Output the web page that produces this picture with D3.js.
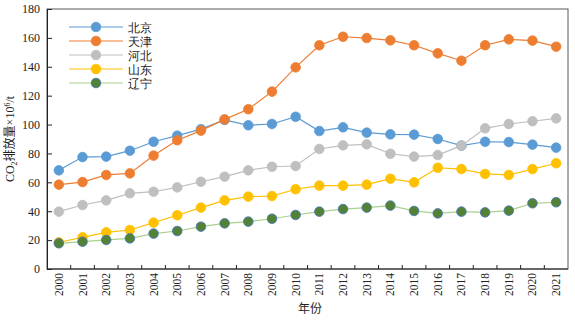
<!DOCTYPE html>
<html>
<head>
<meta charset="utf-8">
<script src="https://cdn.jsdelivr.net/npm/d3@7"></script>
<style>
  body { margin: 0; background: #fff; }
  text { font-family: "Liberation Serif", "Times New Roman", serif; }
  .cjk { font-family: "Noto Sans CJK SC", sans-serif; }
</style>
</head>
<body>
<svg id="chart"></svg>
<script>
const width = 575;
const height = 321;
const margin = {top: 9, right: 7, bottom: 52, left: 47};

const years = [2000,2001,2002,2003,2004,2005,2006,2007,2008,2009,2010,
               2011,2012,2013,2014,2015,2016,2017,2018,2019,2020,2021];
const yTicks = [0,20,40,60,80,100,120,140,160,180];
const regions = ['北京','天津','河北','山东','辽宁'];

const beijing  = [68.3,77.5,77.8,81.9,88.1,92.3,96.8,103.2,99.5,100.4,105.4,95.5,98.1,94.4,93.2,93.0,90.0,85.4,88.1,87.9,86.1,84.0];
const tianjin  = [58.4,60.2,65.1,66.2,78.5,89.1,95.8,103.6,110.6,122.8,139.6,154.9,160.8,159.9,158.3,154.9,149.3,144.2,154.9,159.0,158.1,153.9];
const hebei    = [39.7,44.3,47.5,52.4,53.5,56.5,60.4,63.9,68.3,70.8,71.3,83.1,85.6,86.3,79.8,77.8,78.9,85.4,97.4,100.4,102.3,104.3];
const shandong = [18.5,21.9,25.4,27.0,32.1,37.2,42.5,47.5,50.1,50.5,55.2,57.7,57.7,58.4,62.5,60.0,70.1,69.2,65.8,65.1,69.2,73.2];
const liaoning = [17.8,18.9,20.1,21.2,24.5,26.3,29.3,31.6,32.8,34.8,37.4,39.7,41.5,42.5,43.9,40.2,38.5,39.7,39.2,40.4,45.5,46.2];

const styles = [
  {line: '#5B9BD5', fill: '#5B9BD5', stroke: '#5B9BD5'},
  {line: '#ED7D31', fill: '#ED7D31', stroke: '#ED7D31'},
  {line: '#BFBFBF', fill: '#BFBFBF', stroke: '#BFBFBF'},
  {line: '#FFC000', fill: '#FFC000', stroke: '#FFC000'},
  {line: '#A9D18E', fill: '#548235', stroke: '#4472C4'}
];

const series = [beijing, tianjin, hebei, shandong, liaoning].map((vals, i) => ({
  name: regions[i], style: styles[i],
  values: vals.map((v, j) => ({year: years[j], value: v}))
}));

const svg = d3.select('#chart')
    .attr('width', width)
    .attr('height', height);

const x = d3.scaleBand()
    .domain(years)
    .range([margin.left, width - margin.right]);
const y = d3.scaleLinear()
    .domain([0, 180])
    .range([height - margin.bottom, margin.top]);

// frame
svg.append('rect')
    .attr('x', margin.left)
    .attr('y', margin.top)
    .attr('width', width - margin.right - margin.left)
    .attr('height', height - margin.bottom - margin.top)
    .attr('fill', 'none')
    .attr('stroke', '#595959')
    .attr('stroke-width', 1);

// y axis
const yAxis = svg.append('g')
    .attr('transform', `translate(${margin.left},0)`)
    .call(d3.axisLeft(y).tickValues(yTicks).tickSizeInner(-5).tickSizeOuter(0).tickPadding(7));
yAxis.select('.domain').attr('stroke', '#222');
yAxis.selectAll('line').attr('stroke', '#222');
yAxis.selectAll('text').attr('font-size', 12).attr('fill', '#222')
    .style('font-family', '"Liberation Serif", serif');

// x axis, ticks at category boundaries
const xAxis = svg.append('g')
    .attr('transform', `translate(0,${height - margin.bottom})`);
xAxis.append('line')
    .attr('x1', margin.left).attr('x2', width - margin.right)
    .attr('stroke', '#222');
xAxis.selectAll('.tk')
    .data(years.slice(1))
    .enter()
    .append('line')
      .attr('x1', d => x(d)).attr('x2', d => x(d))
      .attr('y1', 0).attr('y2', -4)
      .attr('stroke', '#222');
xAxis.selectAll('.lbl')
    .data(years)
    .enter()
    .append('text')
      .attr('transform', d => `translate(${x(d) + x.bandwidth()/2 + 4},4) rotate(-90)`)
      .attr('text-anchor', 'end')
      .attr('font-size', 11.5)
      .attr('fill', '#222')
      .text(d => d);

// lines and markers
const line = d3.line()
    .x(d => x(d.year) + x.bandwidth()/2)
    .y(d => y(d.value));

const g = svg.selectAll('.series')
    .data(series)
    .enter()
    .append('g');

g.append('path')
    .attr('d', d => line(d.values))
    .attr('fill', 'none')
    .attr('stroke', d => d.style.line)
    .attr('stroke-width', 1.2);

g.selectAll('circle')
    .data(d => d.values.map(v => ({...v, style: d.style})))
    .enter()
    .append('circle')
      .attr('cx', d => x(d.year) + x.bandwidth()/2)
      .attr('cy', d => y(d.value))
      .attr('r', 4.8)
      .attr('fill', d => d.style.fill)
      .attr('stroke', d => d.style.stroke)
      .attr('stroke-width', 0.8);

// legend
const legend = svg.append('g')
    .attr('transform', 'translate(69,27)');
const item = legend.selectAll('g')
    .data(series)
    .enter()
    .append('g')
      .attr('transform', (d, i) => `translate(0,${i * 14})`);
item.append('line')
    .attr('x1', 0).attr('x2', 54)
    .attr('stroke', d => d.style.line)
    .attr('stroke-width', 1.2);
item.append('circle')
    .attr('cx', 27).attr('r', 4.8)
    .attr('fill', d => d.style.fill)
    .attr('stroke', d => d.style.stroke)
    .attr('stroke-width', 0.8);
item.append('text')
    .attr('x', 59)
    .attr('y', 4.5)
    .attr('font-size', 12)
    .attr('fill', '#222')
    .text(d => d.name);

// axis titles
const yTitle = svg.append('text')
    .attr('transform', `translate(14,${(margin.top + height - margin.bottom)/2}) rotate(-90)`)
    .attr('text-anchor', 'middle')
    .attr('font-size', 12)
    .attr('fill', '#222');
yTitle.append('tspan').text('CO');
yTitle.append('tspan').attr('font-size', 8).attr('dy', 3).text('2');
yTitle.append('tspan').attr('class', 'cjk').attr('dy', -3).text('排放量');
yTitle.append('tspan').text('×10');
yTitle.append('tspan').attr('font-size', 8).attr('dy', -4).text('6');
yTitle.append('tspan').attr('dy', 4).text('/t');

svg.append('text')
    .attr('class', 'cjk')
    .attr('x', 310)
    .attr('y', 313)
    .attr('text-anchor', 'middle')
    .attr('font-size', 12)
    .attr('fill', '#222')
    .text('年份');
</script>
</body>
</html>
